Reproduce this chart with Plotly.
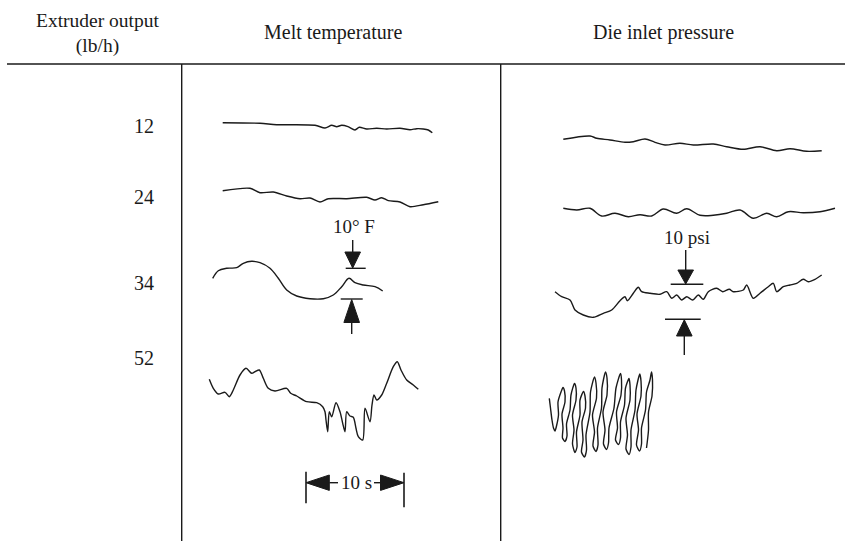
import plotly.graph_objects as go

# ---- categories / labels ----
column_titles = ["Extruder output<br>(lb/h)", "Melt temperature", "Die inlet pressure"]
extruder_outputs = ["12", "24", "34", "52"]

# ---- recorded traces (chart-time axis x, signal axis y) ----
melt_12_x = [222.7, 260, 276.7, 315, 325, 331.7, 336.7, 341.7, 348, 355, 359.3, 366.7, 376.7, 386.7, 400, 410, 416.7, 423.3, 428.3, 432.3]
melt_12_y = [122.7, 123.3, 124.7, 125.3, 128, 125.3, 126.7, 125.3, 126.7, 130, 127.3, 129, 128.3, 129, 128.3, 129.7, 128.7, 129, 130, 132.7]

melt_24_x = [222.7, 250, 260, 273.3, 286.7, 300, 310, 320, 328.3, 346.7, 366.7, 375, 381.7, 388.3, 400, 410, 423.3, 438.3]
melt_24_y = [190.7, 188.3, 192.7, 192, 196, 198.7, 198, 202, 198.7, 198.7, 197.3, 200, 197.7, 200.7, 202, 206.7, 204.7, 201.7]

melt_34_x = [212.7, 218.3, 226.7, 236.7, 243.3, 251.7, 260, 270, 278.3, 286.7, 296.7, 310, 323.3, 333.3, 341.7, 349, 355, 363.3, 375, 382.7]
melt_34_y = [278.3, 270.7, 268.3, 267.7, 263.3, 261.3, 262.7, 268.3, 278.3, 290, 296, 298.7, 298.7, 295, 286.7, 278.3, 282.7, 285, 286.7, 291]

melt_52_x = [209.3, 213.3, 218.3, 225, 229.3, 233.3, 240, 246, 251.7, 255, 259.3, 263.3, 268.3, 275, 286.7, 290.7, 296.7, 306.7, 316.7, 322.7,
             325, 326, 327.7, 329.3, 331.7, 336, 340, 342.7, 345, 346.7, 350, 353.3, 356, 358.3, 362.7, 365, 370, 372, 374, 376.7,
             381.7, 386.7, 393.3, 397.3, 401, 406.7, 413.3, 418.3]
melt_52_y = [379.3, 388.3, 394, 392.3, 396.7, 390, 375, 368.3, 373.3, 371.7, 370, 378.3, 388.3, 391, 388.3, 393.3, 396, 401.7, 402.7, 406.7,
             411.7, 420, 431.7, 411.7, 416.7, 402.7, 411.7, 423.3, 431.7, 411.7, 416, 417.3, 428.3, 436.7, 440, 408.3, 421.7, 405, 395, 400,
             395, 383.3, 366.7, 361.7, 370, 380, 385, 389.3]

pres_12_x = [563.3, 590, 596.7, 610, 625, 633.3, 645, 655, 665, 680, 693.3, 713.3, 726.7, 743.3, 760, 776.7, 790, 806.7, 821.7]
pres_12_y = [139.3, 136, 138.3, 140, 142.3, 141.7, 139, 142.3, 145, 143.3, 145, 144, 146.7, 149.3, 146.7, 150.7, 148.7, 151.3, 150.7]

pres_24_x = [563.3, 576.7, 590, 601.7, 615, 628.3, 640, 651.7, 663.3, 676.7, 686.7, 700, 713.3, 726.7, 740, 753.3, 766.7, 776.7, 788.3, 803.3, 820, 835]
pres_24_y = [208.3, 210, 208.3, 216, 213.3, 216.7, 214.7, 216, 209, 213.3, 208.7, 215.3, 215.3, 213.3, 210, 218.3, 213.3, 216.7, 211.7, 212.7, 211.7, 208.3]

pres_34_x = [555, 561.7, 570, 575, 583.3, 593.3, 603.3, 611.7, 620, 625, 627.3, 633.3, 638.3, 641.7, 650, 660, 666.7, 671.7, 676.7, 681.7,
             686.7, 692.7, 698.3, 703.3, 708.3, 716.7, 722.7, 729.3, 733.3, 743.3, 746.7, 753.3, 760, 768.3, 773.3, 776.7, 783.3, 790, 796.7, 803.3,
             808.3, 815, 821.7]
pres_34_y = [291.7, 296.7, 300, 310, 315, 317.3, 313.3, 310, 300.7, 296.7, 300.7, 293.3, 287.3, 291.7, 293.3, 294.3, 291.7, 298.3, 295, 300,
             296.7, 300, 295, 299.3, 291.7, 288.3, 291.7, 289.3, 291.7, 290, 285, 298.3, 293.3, 286.7, 283.3, 291.7, 286.7, 285, 283.3, 279.3,
             281.7, 279.3, 275]

# 52 lb/h pressure: fast swings traced as narrow, wobbly up/down loops
pres_52_x = [549.3, 550.5, 552, 553.5, 555, 556.5, 558.5, 558, 561, 563,
             564.5, 565, 562, 563, 562.5, 565, 567, 566.5, 570, 571, 574.5,
             576, 576, 572.5, 574, 572.5, 575, 577, 576.5, 580, 580, 583.5,
             585, 585.5, 582, 583, 581.5, 584.5, 586.5, 586, 590, 590.5, 594.5,
             596, 596.5, 592.5, 594.5, 593, 596, 598, 597.5, 601.5, 602, 605.5,
             607, 607, 603, 605, 603.5, 606.5, 608.5, 609, 614, 616, 620.5,
             621.5, 621, 616.5, 617.5, 615.5, 618.5, 620.5, 620.5, 624.5, 625.5, 629,
             630, 630, 626, 627.5, 626, 629, 631, 631, 635, 636, 639.8,
             641, 641, 637, 638.5, 636.5, 639.5, 641.5, 641.5, 645.5, 646.5, 650, 651.5,
             652.5, 652, 648.5, 648.5, 646.5]
pres_52_y = [398.3, 408, 420, 428, 431, 426, 415, 402, 392, 387.5,
             391, 402, 414, 428, 438, 441.5, 436, 424, 410, 395, 383.5,
             388, 400, 415, 430, 444, 452.5, 447, 432, 415, 400, 391.5,
             396, 408, 422, 440, 452, 457, 450, 435, 412, 392, 377,
             383, 398, 415, 432, 446, 451.5, 445, 428, 408, 388, 372,
             378, 395, 412, 430, 444, 449.5, 443, 428, 408, 388, 373.5,
             380, 395, 412, 428, 440, 444.5, 438, 422, 405, 388, 378.5,
             385, 400, 418, 435, 449, 454.5, 447, 430, 410, 390, 374,
             381, 396, 414, 430, 445, 451, 444, 428, 410, 392, 380, 372,
             380, 396, 412, 430, 448]

# scale-bar captions
temp_span_label = "10° F"
pres_span_label = "10 psi"
time_span_label = "10 s"

INK = "#1a1a1a"
FONT = "Liberation Serif, Times New Roman, serif"

fig = go.Figure()

series = [
    (melt_12_x, melt_12_y, 0.8), (melt_24_x, melt_24_y, 0.8), (melt_34_x, melt_34_y, 1.0), (melt_52_x, melt_52_y, 0.8),
    (pres_12_x, pres_12_y, 0.9), (pres_24_x, pres_24_y, 1.0), (pres_34_x, pres_34_y, 0.8), (pres_52_x, pres_52_y, 0.7),
]
for xs, ys, sm in series:
    fig.add_trace(go.Scatter(x=xs, y=ys, mode="lines", hoverinfo="skip",
                             line=dict(color=INK, width=1.4, shape="spline", smoothing=sm)))

shapes = []

def seg(x0, y0, x1, y1, w=1.4):
    shapes.append(dict(type="line", x0=x0, y0=y0, x1=x1, y1=y1, xref="x", yref="y",
                       line=dict(color=INK, width=w)))

def tri(p):
    path = "M {} {} L {} {} L {} {} Z".format(*p)
    shapes.append(dict(type="path", path=path, xref="x", yref="y",
                       fillcolor=INK, line=dict(color=INK, width=1)))

# table frame
seg(7, 64, 845, 64)
seg(181.7, 64, 181.7, 541)
seg(500.7, 64, 500.7, 541)

# melt-temperature amplitude marker
seg(352.7, 240, 352.7, 252)
tri((344.9, 252, 360.5, 252, 352.7, 268))
seg(345.7, 268.3, 365.7, 268.3)
seg(340.7, 299, 362.7, 299)
tri((351.7, 299.5, 343.9, 322.5, 359.5, 322.5))
seg(351.7, 322.5, 351.7, 334)

# pressure amplitude marker
seg(685.7, 250, 685.7, 270)
tri((677.9, 270, 693.5, 270, 685.7, 284))
seg(670.7, 284.3, 703.3, 284.3)
seg(665, 319.3, 700.7, 319.3)
tri((684.3, 319.8, 676.5, 336, 692.1, 336))
seg(684.3, 336, 684.3, 355)

# time scale bar
seg(306, 471.7, 306, 503.3, 1.6)
seg(404, 472.7, 404, 507.3, 1.6)
tri((306, 482.7, 329.3, 475, 329.3, 490.4))
seg(329.3, 482.7, 338, 482.7)
seg(374, 482.7, 380.5, 482.7)
tri((404, 482.7, 380.5, 475, 380.5, 490.4))

annotations = []

def label(x, y, text, size=20, xanchor="center"):
    annotations.append(dict(x=x, y=y, xref="x", yref="y", text=text, showarrow=False,
                            xanchor=xanchor, yanchor="middle",
                            font=dict(family=FONT, size=size, color=INK)))

label(98, 33, column_titles[0], size=19.5)
label(333, 32, column_titles[1], size=20)
label(663, 32, column_titles[2], size=20)
for txt, yy in zip(extruder_outputs, [126, 197, 283, 358]):
    label(155.5, yy, txt, xanchor="right")
label(353.5, 226, temp_span_label, size=19)
label(686.5, 237, pres_span_label, size=19)
label(356, 482.5, time_span_label, size=19)

fig.update_layout(
    width=845, height=541,
    margin=dict(l=0, r=0, t=0, b=0),
    paper_bgcolor="white", plot_bgcolor="white",
    showlegend=False,
    xaxis=dict(range=[0, 845], visible=False, fixedrange=True),
    yaxis=dict(range=[541, 0], visible=False, fixedrange=True),
    shapes=shapes, annotations=annotations,
)

fig.write_html("out.html")
